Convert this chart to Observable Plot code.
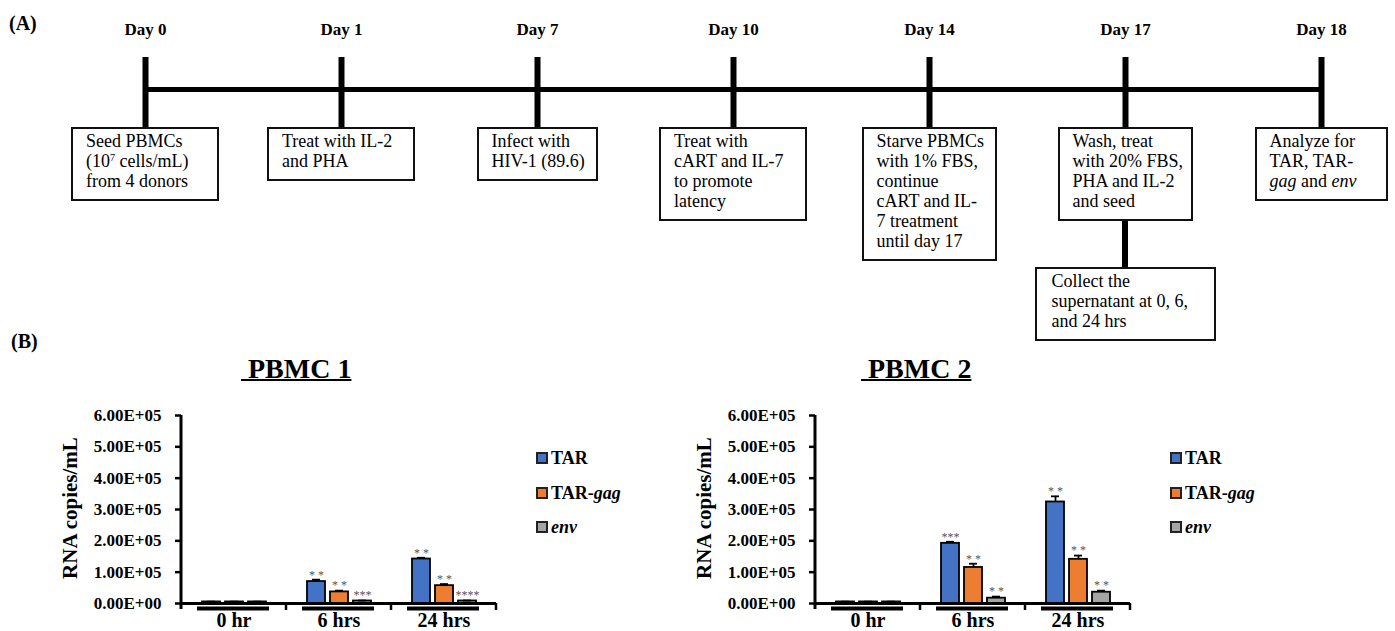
<!DOCTYPE html>
<html>
<head>
<meta charset="utf-8">
<script src="https://cdn.jsdelivr.net/npm/d3@7"></script>
<script src="https://cdn.jsdelivr.net/npm/@observablehq/plot@0.6"></script>
<style>
  html, body { margin: 0; padding: 0; background: #fff; }
  #fig { position: relative; width: 1395px; height: 631px; overflow: hidden; background: #fff;
         font-family: "Liberation Serif", "DejaVu Serif", serif; color: #000; }
  .abs { position: absolute; }
  .box { position: absolute; box-sizing: border-box; border: 2px solid #111; background: #fff;
         padding: 2px 4px 8px 13px; font-size: 18px; line-height: 20px; white-space: nowrap; }
  .box sup { font-size: 10px; line-height: 0; vertical-align: 6px; }
  .panel { position: absolute; font-size: 20px; font-weight: bold; line-height: normal; }
  .ctitle { position: absolute; font-size: 28px; font-weight: bold; text-decoration: underline;
            text-decoration-thickness: 2px; line-height: normal; white-space: pre; }
  .ylab { position: absolute; font-size: 21px; font-weight: bold; white-space: nowrap;
          transform: translate(-50%, -50%) rotate(-90deg); }
  .legend { position: absolute; font-size: 18px; font-weight: bold; line-height: 34.5px; white-space: nowrap; }
  .legend .sw { display: inline-block; width: 12px; height: 12px; box-sizing: border-box;
                border: 2px solid #222; margin-right: 3px; vertical-align: baseline; }
  svg.chart [aria-label^="fx-axis"] text { font-size: 20px; }
  svg.chart [aria-label^="y-axis"] path, svg.chart [aria-label^="y-axis"] line { stroke-width: 2.5px; }
</style>
</head>
<body>
<div id="fig"></div>
<script>
// ---------- Panel A data ----------
const days = ["Day 0", "Day 1", "Day 7", "Day 10", "Day 14", "Day 17", "Day 18"];
const stepTexts = [
  ["Seed PBMCs", "(10<sup>7</sup> cells/mL)", "from 4 donors"],
  ["Treat with IL-2", "and PHA"],
  ["Infect with", "HIV-1 (89.6)"],
  ["Treat with", "cART and IL-7", "to promote", "latency"],
  ["Starve PBMCs", "with 1% FBS,", "continue", "cART and IL-", "7 treatment", "until day 17"],
  ["Wash, treat", "with 20% FBS,", "PHA and IL-2", "and seed"],
  ["Analyze for", "TAR, TAR-", "<i>gag</i> and <i>env</i>"]
];
const followUpDay = "Day 17";
const followUpText = ["Collect the", "supernatant at 0, 6,", "and 24 hrs"];

// ---------- Panel B data ----------
const times = ["0 hr", "6 hrs", "24 hrs"];
const genes = ["TAR", "TAR-gag", "env"];
const geneColors = ["#4472C4", "#ED7D31", "#A5A5A5"];
const pbmc1Values = [[5000, 5000, 5000], [70000, 37000, 8000], [142000, 57000, 8000]];
const pbmc1Errors = [[1000, 1000, 1000], [6000, 4000, 1500], [4000, 5000, 1500]];
const pbmc1Stars  = [["", "", ""], ["* *", "* *", "***"], ["* *", "* *", "****"]];
const pbmc2Values = [[5000, 5000, 5000], [192000, 115000, 17000], [324000, 141000, 36000]];
const pbmc2Errors = [[1000, 1000, 1000], [5000, 12000, 5000], [18000, 12000, 5000]];
const pbmc2Stars  = [["", "", ""], ["***", "* *", "* *"], ["* *", "* *", "* *"]];
const yTickCount = 6;

// ---------- layout (styles only) ----------
const boxWidths = [148, 148, 121, 148, 135, 135, 133];
const followUpWidth = 181;
const serif = '"Liberation Serif", "DejaVu Serif", serif';

const fig = document.getElementById("fig");

function place(el, left, top) {
  el.style.left = left + "px"; el.style.top = top + "px";
  fig.appendChild(el);
  return el;
}

// ---------- Panel A: timeline ----------
const timeline = Plot.plot({
  width: 1395, height: 140,
  marginTop: 57, marginBottom: 13, marginLeft: 142, marginRight: 72,
  style: {fontFamily: serif, background: "transparent", overflow: "visible"},
  x: {type: "point", domain: days, padding: 0, axis: null},
  y: {domain: [-1, 1], axis: null},
  marks: [
    Plot.ruleY([0], {x1: () => days[0], x2: () => days[days.length - 1], stroke: "#000", strokeWidth: 5, dy: -3}),
    Plot.ruleX(days, {x: d => d, y1: -1, y2: 1, stroke: "#000", strokeWidth: 6}),
    Plot.text(days, {x: d => d, y: 1, text: d => d, dy: -28, fontSize: 17, fontWeight: "bold", fill: "#000"})
  ]
});
const tw = document.createElement("div");
tw.className = "abs"; tw.style.width = "1395px";
tw.appendChild(timeline);
place(tw, 0, 0);

const tx = timeline.scale("x");
const tickBottom = 127;
let day17BoxBottom = 0;
days.forEach((d, i) => {
  const b = document.createElement("div");
  b.className = "box";
  b.style.width = boxWidths[i] + "px";
  b.innerHTML = stepTexts[i].join("<br>");
  place(b, tx.apply(d) - boxWidths[i] / 2, tickBottom);
  if (d === followUpDay) day17BoxBottom = tickBottom + b.offsetHeight;
});
// connector + follow-up box
const followTop = 267;
const conn = document.createElement("div");
conn.className = "abs";
conn.style.width = "6px"; conn.style.background = "#000";
conn.style.height = (followTop - day17BoxBottom) + "px";
place(conn, tx.apply(followUpDay) - 3, day17BoxBottom);
const fb = document.createElement("div");
fb.className = "box";
fb.style.width = followUpWidth + "px";
fb.style.paddingLeft = "15px";
fb.innerHTML = followUpText.join("<br>");
place(fb, tx.apply(followUpDay) - followUpWidth / 2, followTop);

// ---------- Panel B: bar charts ----------
function sci(v) {
  if (v === 0) return "0.00E+00";
  const e = Math.floor(Math.log10(v) + 1e-9);
  return (v / Math.pow(10, e)).toFixed(2) + "E+" + String(e).padStart(2, "0");
}

function makeChart(values, errors, stars) {
  const rows = times.flatMap((t, i) => genes.map((g, j) => ({
    time: t, gene: g, value: values[i][j], err: errors[i][j], sig: stars[i][j]
  })));
  const top = d => d.value + d.err;
  const chart = Plot.plot({
    width: 560, height: 240,
    marginLeft: 180, marginRight: 63, marginTop: 20, marginBottom: 32,
    style: {fontFamily: serif, fontSize: "17px", fontWeight: "bold", color: "#000", background: "transparent", overflow: "visible"},
    fx: {domain: times, padding: 0, label: null, tickSize: 0, tickPadding: 9},
    x: {domain: genes, paddingInner: 0.22, paddingOuter: 0.8, axis: null},
    y: {domain: [0, 600000], ticks: yTickCount, tickFormat: sci, tickSize: 6, tickPadding: 14, label: null},
    color: {domain: genes, range: geneColors},
    marks: [
      Plot.barY(rows, {fx: "time", x: "gene", y: "value", fill: "gene", stroke: "#000", strokeWidth: 1.8}),
      Plot.ruleX(rows, {fx: "time", x: "gene", y1: "value", y2: top, stroke: "#000", strokeWidth: 1.8}),
      Plot.tickY(rows, {fx: "time", x: "gene", y: top, stroke: "#000", strokeWidth: 1.8, insetLeft: 5, insetRight: 5}),
      Plot.text(rows, {fx: "time", x: "gene", y: top, text: "sig", dy: -5, fontSize: 12, fontWeight: "normal", fill: "#555"}),
      Plot.ruleY(times, {fx: d => d, y: () => 0, stroke: "#000", strokeWidth: 3}),
      Plot.ruleY(times, {fx: d => d, y: () => 0, dy: 5, insetLeft: 16, insetRight: 17, stroke: "#000", strokeWidth: 4})
    ]
  });
  chart.classList.add("chart");
  // axis line and category separators, positioned through the plot's own scales
  const fxs = chart.scale("fx"), ys = chart.scale("y");
  const svg = d3.select(chart);
  const y0 = ys.apply(0), yTop = ys.apply(600000);
  const left = fxs.apply(times[0]);
  svg.append("line").attr("x1", left).attr("x2", left).attr("y1", yTop).attr("y2", y0 + 6)
    .attr("stroke", "#000").attr("stroke-width", 3);
  times.forEach(t => {
    const xr = fxs.apply(t) + fxs.bandwidth;
    svg.append("line").attr("x1", xr).attr("x2", xr).attr("y1", y0).attr("y2", y0 + 7)
      .attr("stroke", "#000").attr("stroke-width", 2.5);
  });
  return chart;
}

function addChart(values, errors, stars, left, title, titleLeft) {
  const w = document.createElement("div");
  w.className = "abs"; w.style.width = "560px";
  w.appendChild(makeChart(values, errors, stars));
  place(w, left, 395);
  const t = document.createElement("div");
  t.className = "ctitle"; t.textContent = "\u00a0" + title;
  place(t, titleLeft, 353);
  const yl = document.createElement("div");
  yl.className = "ylab"; yl.textContent = "RNA copies/mL";
  place(yl, left + 70, 508);
  const lg = document.createElement("div");
  lg.className = "legend";
  lg.innerHTML = genes.map((g, j) => {
    const label = g === "TAR-gag" ? "TAR-<i>gag</i>" : g === "env" ? "<i>env</i>" : g;
    return `<div><span class="sw" style="background:${geneColors[j]}"></span>${label}</div>`;
  }).join("");
  place(lg, left + 536, 441);
}

addChart(pbmc1Values, pbmc1Errors, pbmc1Stars, 0, "PBMC 1", 241);
addChart(pbmc2Values, pbmc2Errors, pbmc2Stars, 634, "PBMC 2", 861);

// panel letters
const la = document.createElement("div"); la.className = "panel"; la.textContent = "(A)"; place(la, 9, 12);
const lb = document.createElement("div"); lb.className = "panel"; lb.textContent = "(B)"; place(lb, 11, 330);
</script>
</body>
</html>
